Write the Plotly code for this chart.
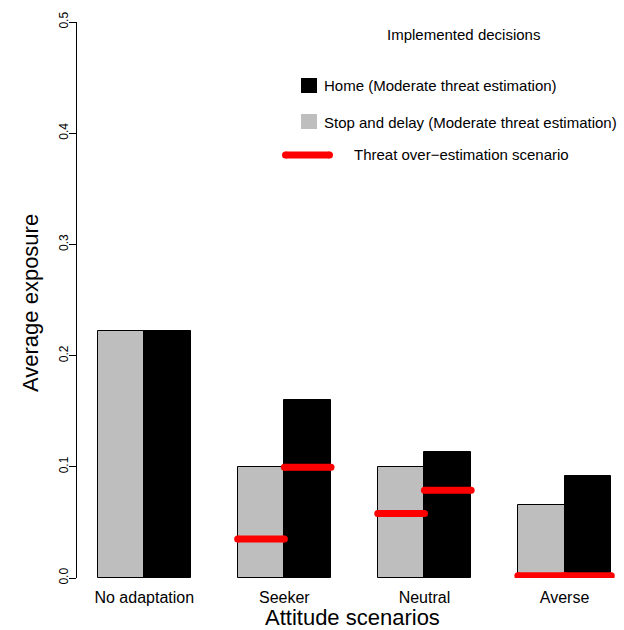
import plotly.graph_objects as go

# ---- data ----
categories = ["No adaptation", "Seeker", "Neutral", "Averse"]
stop_delay = [0.222, 0.100, 0.100, 0.066]      # grey bars (moderate threat)
home = [0.222, 0.160, 0.113, 0.092]            # black bars (moderate threat)
over_stop = [None, 0.035, 0.058, 0.002]        # red segments on grey bars
over_home = [None, 0.0995, 0.079, 0.002]       # red segments on black bars
y_ticks = [0.0, 0.1, 0.2, 0.3, 0.4, 0.5]

FONT = "Liberation Sans, Arial, Helvetica, sans-serif"
W, H = 624, 630
L, R, T, B = 77, 0, 22, 52
PW, PH = W - L - R, H - T - B

def px(x):
    return (x - L) / PW

def py(y):
    return (H - B - y) / PH

n = len(categories)
gx = [3 * i + 1.5 for i in range(n)]
hx = [3 * i + 2.5 for i in range(n)]
centers = [3 * i + 2 for i in range(n)]

fig = go.Figure()
fig.add_trace(go.Bar(x=gx, y=stop_delay, width=1, marker=dict(color="#BEBEBE", line=dict(color="black", width=1)),
                     showlegend=False, hoverinfo="skip"))
fig.add_trace(go.Bar(x=hx, y=home, width=1, marker=dict(color="black", line=dict(color="black", width=1)),
                     showlegend=False, hoverinfo="skip"))

rx, ry = [], []
for i in range(n):
    if over_stop[i] is not None:
        rx += [3 * i + 1, 3 * i + 2, None]
        ry += [over_stop[i], over_stop[i], None]
    if over_home[i] is not None:
        rx += [3 * i + 2, 3 * i + 3, None]
        ry += [over_home[i], over_home[i], None]
fig.add_trace(go.Scatter(x=rx, y=ry, mode="lines+markers", line=dict(color="#FF0000", width=7),
                         marker=dict(color="#FF0000", size=7), showlegend=False, hoverinfo="skip"))

x0 = 0.56
x1 = x0 + PW / 46.7
fig.update_layout(
    width=W, height=H, margin=dict(l=L, r=R, t=T, b=B),
    paper_bgcolor="white", plot_bgcolor="white",
    barmode="overlay", bargap=0,
    font=dict(family=FONT, color="black"),
    xaxis=dict(range=[x0, x1], showgrid=False, zeroline=False, showline=False,
               tickvals=centers, ticktext=categories, ticks="", tickfont=dict(size=16),
               ticklabelstandoff=8),
    yaxis=dict(range=[0, 0.5], showgrid=False, zeroline=False, showline=True, linecolor="black", linewidth=1,
               tickvals=y_ticks, ticktext=[f"{v:.1f}" for v in y_ticks], ticks="outside", ticklen=7,
               tickcolor="black", tickwidth=1, tickangle=-90, tickfont=dict(size=12),
               ticklabelstandoff=-4),
    showlegend=False,
)

ann = []
ann.append(dict(text="Attitude scenarios", x=px(352), y=py(617), xref="paper", yref="paper",
                showarrow=False, font=dict(size=22), xanchor="center", yanchor="middle"))
ann.append(dict(text="Average exposure", x=px(30), y=py(303), xref="paper", yref="paper", textangle=-90,
                showarrow=False, font=dict(size=22), xanchor="center", yanchor="middle"))
ann.append(dict(text="Implemented decisions", x=px(463), y=py(35), xref="paper", yref="paper",
                showarrow=False, font=dict(size=15), xanchor="center", yanchor="middle"))
ann.append(dict(text="Home (Moderate threat estimation)", x=px(322), y=py(86), xref="paper", yref="paper",
                showarrow=False, font=dict(size=15), xanchor="left", yanchor="middle"))
ann.append(dict(text="Stop and delay (Moderate threat estimation)", x=px(322), y=py(122), xref="paper", yref="paper",
                showarrow=False, font=dict(size=15), xanchor="left", yanchor="middle"))
ann.append(dict(text="Threat over\u2212estimation scenario", x=px(352), y=py(155), xref="paper", yref="paper",
                showarrow=False, font=dict(size=15), xanchor="left", yanchor="middle"))
fig.update_layout(annotations=ann)

shapes = []
shapes.append(dict(type="rect", xref="paper", yref="paper", x0=px(301), x1=px(317), y0=py(93), y1=py(78),
                   fillcolor="black", line=dict(width=0)))
shapes.append(dict(type="rect", xref="paper", yref="paper", x0=px(301), x1=px(317), y0=py(129), y1=py(114),
                   fillcolor="#BEBEBE", line=dict(width=0)))
shapes.append(dict(type="line", xref="paper", yref="paper", x0=px(285.5), x1=px(329.5), y0=py(155), y1=py(155),
                   line=dict(color="#FF0000", width=7)))
shapes.append(dict(type="circle", xref="paper", yref="paper", x0=px(282), x1=px(289), y0=py(158.5), y1=py(151.5),
                   fillcolor="#FF0000", line=dict(width=0)))
shapes.append(dict(type="circle", xref="paper", yref="paper", x0=px(326), x1=px(333), y0=py(158.5), y1=py(151.5),
                   fillcolor="#FF0000", line=dict(width=0)))
fig.update_layout(shapes=shapes)

fig.write_html("out.html", config={"displayModeBar": False},
               post_script="document.body.style.margin='0';document.body.style.overflow='hidden';")
